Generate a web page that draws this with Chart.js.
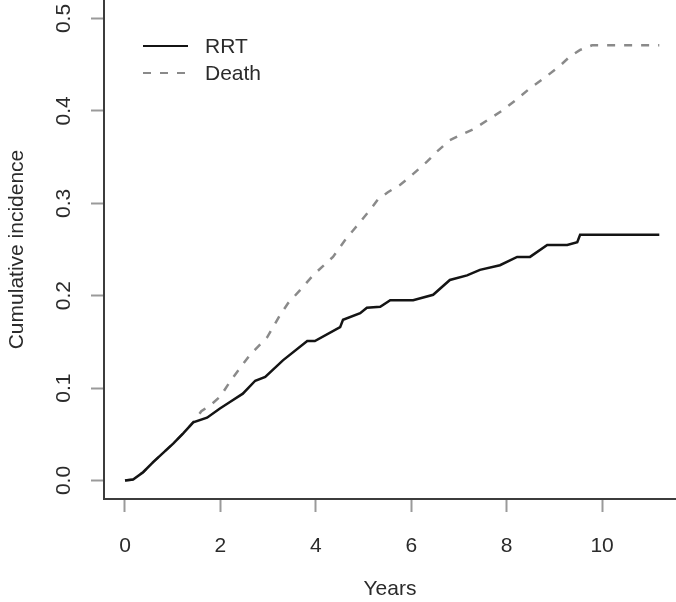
<!DOCTYPE html>
<html>
<head>
<meta charset="utf-8">
<script src="https://cdn.jsdelivr.net/npm/chart.js@4"></script>
<style>
  html, body { margin: 0; padding: 0; background: #fff; }
  #wrap { width: 676px; height: 602px; }
</style>
</head>
<body>
<div id="wrap"><canvas id="chart"></canvas></div>
<script>
// values
const seriesLabels = ['RRT', 'Death'];
const rrtYears = [0, 0.17, 0.38, 0.59, 0.80, 1.01, 1.22, 1.43, 1.72, 1.99, 2.20, 2.47, 2.73, 2.94, 3.31, 3.82, 3.98, 4.51, 4.57, 4.93, 5.07, 5.35, 5.56, 6.04, 6.46, 6.81, 7.17, 7.44, 7.86, 8.22, 8.49, 8.85, 9.27, 9.48, 9.54, 11.2];
const rrtIncidence = [0, 0.001, 0.009, 0.020, 0.030, 0.040, 0.051, 0.063, 0.068, 0.078, 0.085, 0.094, 0.108, 0.112, 0.130, 0.151, 0.151, 0.166, 0.174, 0.181, 0.187, 0.188, 0.195, 0.195, 0.201, 0.217, 0.222, 0.228, 0.233, 0.242, 0.242, 0.255, 0.255, 0.258, 0.266, 0.266];
const deathYears = [0, 0.17, 0.38, 0.59, 0.80, 1.01, 1.22, 1.43, 1.60, 1.80, 2.00, 2.15, 2.30, 2.62, 2.98, 3.25, 3.42, 3.67, 3.94, 4.36, 4.61, 4.82, 5.14, 5.30, 5.51, 5.77, 5.98, 6.33, 6.54, 6.80, 7.00, 7.30, 7.60, 7.90, 8.20, 8.50, 8.80, 9.12, 9.33, 9.54, 9.79, 11.2];
const deathIncidence = [0, 0.001, 0.009, 0.020, 0.030, 0.040, 0.051, 0.063, 0.075, 0.082, 0.091, 0.103, 0.114, 0.136, 0.155, 0.179, 0.192, 0.206, 0.222, 0.242, 0.260, 0.273, 0.293, 0.304, 0.312, 0.320, 0.329, 0.345, 0.356, 0.368, 0.373, 0.380, 0.390, 0.400, 0.412, 0.425, 0.436, 0.449, 0.459, 0.466, 0.471, 0.471];
const xTicks = [0, 2, 4, 6, 8, 10];
const yTicks = [0, 0.1, 0.2, 0.3, 0.4, 0.5];

const textColor = '#2b2b2b';
const fontFamily = '"Liberation Sans", Arial, Helvetica, sans-serif';
Chart.defaults.font.family = fontFamily;

function toPoints(xs, ys) {
    return xs.map((x, i) => ({ x: x, y: ys[i] }));
}

// legend drawn inside the plot, top left, like R's legend()
const insetLegend = {
    id: 'insetLegend',
    afterDatasetsDraw: function (chart) {
        let ctx = chart.ctx;
        chart.data.datasets.forEach((ds, i) => {
            let y = 46 + i * 27;
            ctx.save();
            ctx.strokeStyle = ds.borderColor;
            ctx.lineWidth = 2;
            ctx.setLineDash(ds.borderDash || []);
            ctx.beginPath();
            ctx.moveTo(143, y);
            ctx.lineTo(188, y);
            ctx.stroke();
            ctx.setLineDash([]);
            ctx.fillStyle = textColor;
            ctx.font = '21px ' + fontFamily;
            ctx.textBaseline = 'middle';
            ctx.fillText(ds.label, 205, y + 1);
            ctx.restore();
        });
    }
};

const tickFont = { size: 21 };
const gridOpts = { drawOnChartArea: false, drawTicks: true, tickLength: 13, tickWidth: 2, tickColor: '#9a9a9a' };
const borderOpts = { display: true, color: '#3c3c3c', width: 2 };

new Chart(document.getElementById('chart'), {
    type: 'line',
    data: {
        datasets: [
            {
                label: seriesLabels[0],
                data: toPoints(rrtYears, rrtIncidence),
                borderColor: '#141414',
                borderWidth: 2.5,
                pointRadius: 0,
                tension: 0,
                fill: false
            },
            {
                label: seriesLabels[1],
                data: toPoints(deathYears, deathIncidence),
                borderColor: '#8a8a8a',
                borderWidth: 2.5,
                borderDash: [8, 9],
                pointRadius: 0,
                tension: 0,
                fill: false
            }
        ]
    },
    options: {
        responsive: true,
        maintainAspectRatio: false,
        animation: false,
        devicePixelRatio: 1,
        layout: { padding: 0 },
        plugins: {
            legend: { display: false },
            tooltip: { enabled: false }
        },
        scales: {
            x: {
                type: 'linear',
                min: -0.44,
                max: 11.55,
                afterBuildTicks: s => { s.ticks = xTicks.map(v => ({ value: v })); },
                afterFit: s => { s.height = 103; s.paddingLeft = 0; s.paddingRight = 0; },
                grid: gridOpts,
                border: borderOpts,
                ticks: {
                    padding: 22,
                    color: textColor,
                    font: tickFont,
                    maxRotation: 0,
                    autoSkip: false,
                    callback: v => String(v)
                },
                title: {
                    display: true,
                    text: 'Years',
                    color: textColor,
                    font: tickFont,
                    padding: { top: 0, bottom: 0 }
                }
            },
            y: {
                type: 'linear',
                min: -0.02,
                max: 0.52,
                afterBuildTicks: s => { s.ticks = yTicks.map(v => ({ value: v })); },
                afterFit: s => { s.width = 104; s.paddingTop = 0; s.paddingBottom = 0; },
                grid: gridOpts,
                border: borderOpts,
                ticks: {
                    padding: 12,
                    crossAlign: 'center',
                    minRotation: 90,
                    maxRotation: 90,
                    color: textColor,
                    font: tickFont,
                    callback: v => v.toFixed(1)
                },
                title: {
                    display: true,
                    text: 'Cumulative incidence',
                    color: textColor,
                    font: tickFont,
                    padding: { top: 5, bottom: 0 }
                }
            }
        }
    },
    plugins: [insetLegend]
});
</script>
</body>
</html>
